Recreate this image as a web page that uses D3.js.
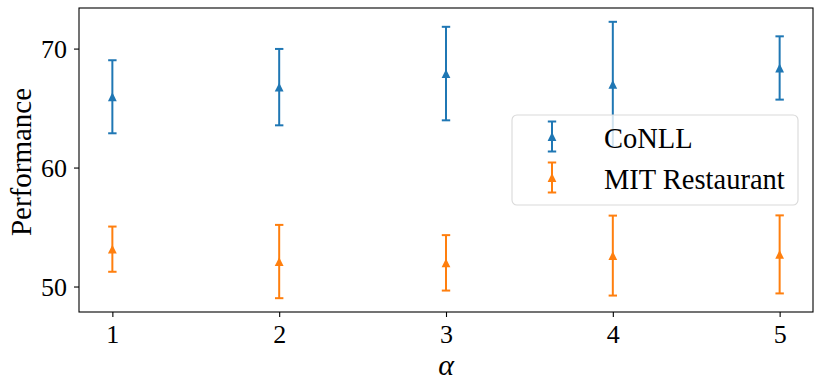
<!DOCTYPE html>
<html>
<head>
<meta charset="utf-8">
<script src="https://cdn.jsdelivr.net/npm/d3@7"></script>
<style>
  body { margin: 0; background: #fff; }
</style>
</head>
<body>
<svg id="chart" width="822" height="388"></svg>
<script>
// values
const alphas = [1, 2, 3, 4, 5];
const conllMean = [65.95, 66.76, 67.9, 67.0, 68.37];
const conllErr = [3.07, 3.21, 3.93, 5.25, 2.66];
const mitMean = [53.14, 52.1, 51.99, 52.6, 52.7];
const mitErr = [1.9, 3.08, 2.33, 3.36, 3.28];
const yTicks = [50, 60, 70];
const seriesNames = ["CoNLL", "MIT Restaurant"];
const seriesColors = ["#1f77b4", "#ff7f0e"];

const serif = "'Liberation Serif', 'Times New Roman', Times, serif";

const svg = d3.select("#chart").attr("font-family", serif);
const margin = { top: 8, right: 9, bottom: 76, left: 79 };
const width = +svg.attr("width");
const height = +svg.attr("height");
const innerW = width - margin.left - margin.right;
const innerH = height - margin.top - margin.bottom;

const series = [
    { name: seriesNames[0], color: seriesColors[0], mean: conllMean, err: conllErr },
    { name: seriesNames[1], color: seriesColors[1], mean: mitMean, err: mitErr }
];

// matplotlib style 5% margins
const xPad = (d3.max(alphas) - d3.min(alphas)) * 0.05;
const lo = d3.min(series, s => d3.min(s.mean, (m, i) => m - s.err[i]));
const hi = d3.max(series, s => d3.max(s.mean, (m, i) => m + s.err[i]));
const yPad = (hi - lo) * 0.05;

const x = d3.scaleLinear()
    .domain([d3.min(alphas) - xPad, d3.max(alphas) + xPad])
    .range([0, innerW]);
const y = d3.scaleLinear()
    .domain([lo - yPad, hi + yPad])
    .range([innerH, 0]);

const g = svg.append("g").attr("transform", `translate(${margin.left},${margin.top})`);

// axes
const xAxis = g.append("g")
    .attr("transform", `translate(0,${innerH})`)
    .call(d3.axisBottom(x).tickValues(alphas).tickSize(5).tickPadding(6).tickFormat(d3.format("d")));
const yAxis = g.append("g")
    .call(d3.axisLeft(y).tickValues(yTicks).tickSize(5).tickPadding(7));

[xAxis, yAxis].forEach(ax => {
    ax.attr("font-family", serif);
    ax.select(".domain").remove();
    ax.selectAll("line").attr("stroke", "#000").attr("stroke-width", 1.1);
    ax.selectAll("text").attr("fill", "#000").style("font-size", "26px").style("font-family", serif);
});
xAxis.selectAll("text").attr("dy", "0.78em");
yAxis.selectAll("text").attr("dy", "0.34em");

// frame
g.append("rect")
    .attr("width", innerW)
    .attr("height", innerH)
    .attr("fill", "none")
    .attr("stroke", "#000")
    .attr("stroke-width", 1.1);

const capW = 4.2;
const triR = 4.4;
const tri = r => `M0,${-r}L${-r},${r}L${r},${r}Z`;

function drawErrorbar(sel, cx, cy, top, bottom, color) {
    sel.append("line")
        .attr("x1", cx).attr("x2", cx)
        .attr("y1", top).attr("y2", bottom)
        .attr("stroke", color).attr("stroke-width", 2);
    [top, bottom].forEach(yy => {
        sel.append("line")
            .attr("x1", cx - capW).attr("x2", cx + capW)
            .attr("y1", yy).attr("y2", yy)
            .attr("stroke", color).attr("stroke-width", 2);
    });
    sel.append("path")
        .attr("d", tri(triR))
        .attr("transform", `translate(${cx},${cy})`)
        .attr("fill", color);
}

series.forEach(s => {
    const grp = g.append("g");
    alphas.forEach((a, i) => {
        drawErrorbar(grp, x(a), y(s.mean[i]), y(s.mean[i] + s.err[i]), y(s.mean[i] - s.err[i]), s.color);
    });
});

// axis labels
svg.append("text")
    .attr("x", margin.left + innerW / 2)
    .attr("y", 375)
    .attr("text-anchor", "middle")
    .style("font-family", serif)
    .style("font-size", "30px")
    .style("font-style", "italic")
    .text("α");

svg.append("text")
    .attr("transform", `translate(31,${margin.top + innerH / 2 + 2}) rotate(-90)`)
    .attr("text-anchor", "middle")
    .style("font-family", serif)
    .style("font-size", "29px")
    .text("Performance");

// legend
const legend = svg.append("g").attr("transform", "translate(512,115)");
legend.append("rect")
    .attr("width", 286)
    .attr("height", 90)
    .attr("rx", 5)
    .attr("fill", "#fff")
    .attr("fill-opacity", 0.8)
    .attr("stroke", "#d9d9d9")
    .attr("stroke-width", 1.1);

series.forEach((s, i) => {
    const cy = 21.5 + i * 41;
    drawErrorbar(legend, 40, cy, cy - 15, cy + 15, s.color);
    legend.append("text")
        .attr("x", 92)
        .attr("y", cy + 11)
        .attr("fill", "#000")
        .style("font-family", serif)
        .style("font-size", "28.5px")
        .text(s.name);
});
</script>
</body>
</html>
